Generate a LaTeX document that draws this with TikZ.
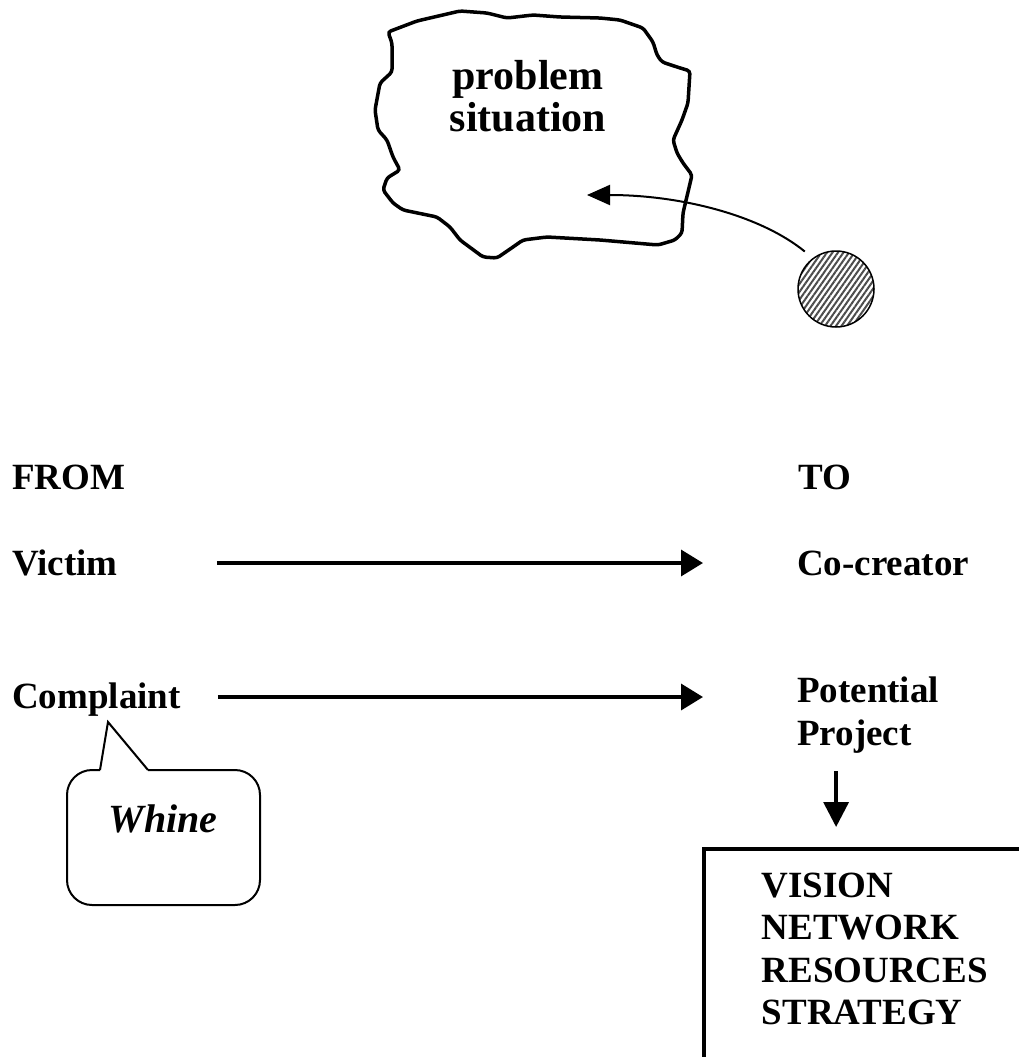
\documentclass[tikz,border=0pt]{standalone}
\usepackage{fontspec}
\setmainfont{Liberation Serif}
\usetikzlibrary{arrows.meta,patterns.meta}

\begin{document}
\begin{tikzpicture}
  [x=1pt,y=-1pt,
   every node/.style={inner sep=0pt,font=\fontsize{37}{42.5}\selectfont\bfseries},
   word/.style={anchor=base west},
   flow/.style={line width=3.5pt,-{Triangle[length=22pt,width=26pt]}}]

  \clip (0,0) rectangle (1019,1057);

  % the cloud
  \draw[line width=3.5pt,rounded corners=3pt]
    (388,32) -- (417,21) -- (460,11) -- (487,13) -- (507,18) -- (533,15)
    -- (560,17) -- (600,18) -- (620,20) -- (643,28) -- (653,42) -- (657,55)
    -- (662,62) -- (677,67) -- (690,71) -- (688,103) -- (682,120) -- (673,140)
    -- (677,153) -- (683,163) -- (692,175) -- (688,192) -- (683,213) -- (682,233)
    -- (675,240) -- (658,245) -- (600,240) -- (547,237) -- (523,240) -- (513,247)
    -- (497,258) -- (483,257) -- (460,240) -- (450,227) -- (437,217) -- (403,210)
    -- (393,203) -- (383,190) -- (387,178) -- (400,170) -- (393,157) -- (387,140)
    -- (378,130) -- (375,110) -- (380,83) -- (392,72) -- (392,43) -- cycle;
  \node[align=center,font=\fontsize{42}{42}\selectfont\bfseries,anchor=base] (problem) at (528,131) {problem\\situation};

  \node[circle,draw,line width=1.5pt,minimum size=76pt,
        pattern={Lines[angle=55,distance=4.5pt,line width=2pt]},pattern color=black!70] (self) at (836,289) {};
  \coordinate (aim) at (587,195);
  \draw[line width=2pt,-{Triangle[length=23pt,width=20pt]},shorten <=10pt]
    (self.127) .. controls (760,215) and (680,195) .. (aim);

  \node[word] (from) at (12,489) {FROM};
  \node[word] (to) at (798,489) {TO};
  \node[word] (victim) at (12,575) {Victim};
  \node[word] (cocreator) at (797,575) {Co-creator};
  \node[word] (complaint) at (12,708) {Complaint};
  \node[word,align=left] (project) at (797,745) {Potential\\Project};

  \draw[flow,shorten <=99pt,shorten >=94pt] ([yshift=12pt]victim.base east) -- ([yshift=12pt]cocreator.base west);
  \draw[flow,shorten <=37pt,shorten >=94pt] ([yshift=11pt]complaint.base east) -- ([yshift=11pt]complaint.base east -| project.west);

  % speech bubble
  \node[font=\fontsize{40}{44}\selectfont\bfseries\itshape,anchor=base] (whine) at (163,832) {Whine};
  \draw[line width=2pt,rounded corners=25pt] (148,770) -- (260,770) -- (260,905) -- (67,905) -- (67,770) -- (100,770);
  \draw[line width=2pt] (100,770) -- (108,722) -- (148,770);

  \node[draw,line width=3.5pt,anchor=north west,align=left,inner xsep=58pt,inner ysep=0pt,
        text height=176pt,text depth=200pt] (plan) at (702,847) {VISION\\NETWORK\\RESOURCES\\STRATEGY};
  \draw[flow,-{Triangle[length=25pt,width=25pt]},shorten <=18pt,shorten >=20pt]
    ([xshift=-32pt]project.south) -- ([xshift=-32pt]project.south |- plan.north);

\end{tikzpicture}
\end{document}
